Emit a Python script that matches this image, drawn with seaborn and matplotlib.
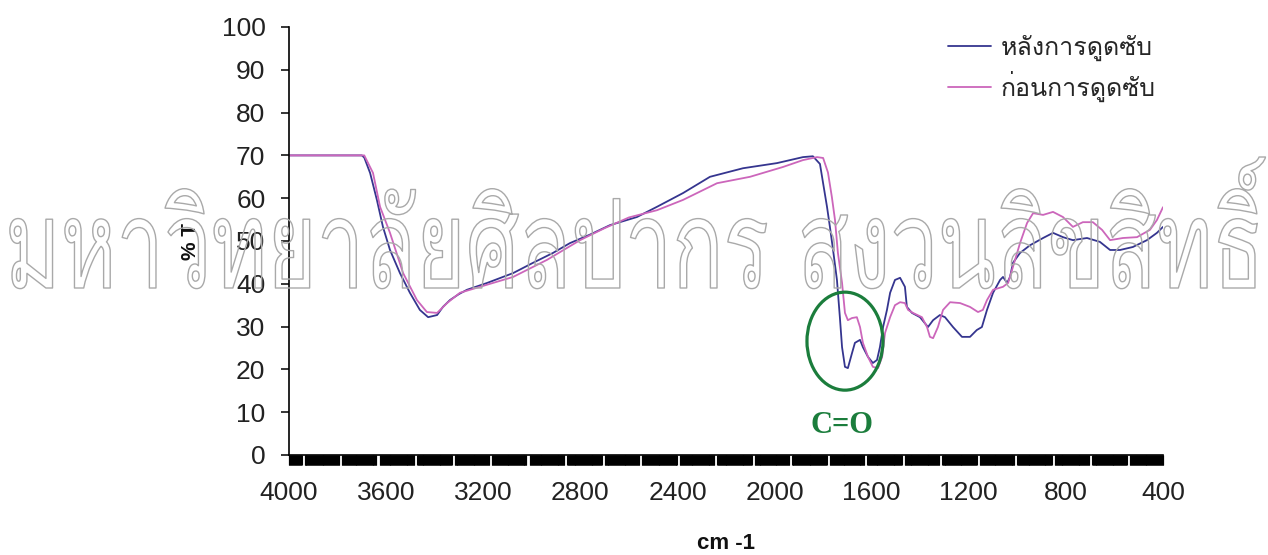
import numpy as np
import pandas as pd
import matplotlib
matplotlib.use("Agg")
import matplotlib.pyplot as plt
import seaborn as sns
from matplotlib import font_manager as fm
from matplotlib.ft2font import FT2Font
from matplotlib.patches import Ellipse
from matplotlib.ticker import FixedLocator
from matplotlib.transforms import Affine2D
from matplotlib.textpath import TextPath
import matplotlib.patheffects as pe

# ---------------- data ----------------
after_x = [4000, 3700, 3690, 3666, 3638, 3613, 3584, 3543, 3502, 3461, 3427, 3390, 3366, 3337,
           3300, 3267, 3184, 3077, 2995, 2913, 2843, 2760, 2678, 2567, 2484, 2377, 2266, 2130,
           1990, 1883, 1842, 1813, 1800, 1784, 1772, 1759, 1743, 1731, 1722, 1710, 1698, 1681,
           1669, 1648, 1636, 1615, 1595, 1578, 1566, 1553, 1537, 1524, 1504, 1483, 1463, 1455,
           1434, 1401, 1368, 1347, 1319, 1298, 1265, 1228, 1195, 1167, 1146, 1125, 1100, 1071,
           1059, 1042, 1030, 1018, 989, 948, 894, 853, 812, 771, 713, 660, 618, 577, 524, 466,
           425, 400]
after_y = [70, 70, 69.5, 65.9, 59.6, 53.3, 47.9, 42.5, 37.9, 33.9, 32.2, 32.7, 34.6, 36.2,
           37.6, 38.6, 40.2, 42.5, 44.9, 47.2, 49.5, 51.5, 53.7, 55.6, 58.0, 61.2, 65.0, 67.0,
           68.2, 69.6, 69.8, 68.0, 63.5, 58.0, 53.3, 47.9, 40.9, 32.2, 25.2, 20.6, 20.3, 23.8,
           26.2, 26.9, 25.2, 22.9, 21.5, 22.2, 25.2, 29.9, 33.9, 37.9, 40.9, 41.4, 39.3, 34.6,
           33.2, 32.2, 29.9, 31.5, 32.7, 32.2, 29.9, 27.6, 27.6, 29.2, 29.9, 33.9, 37.9, 40.9,
           41.6, 40.2, 41.6, 44.9, 47.2, 49.0, 50.7, 51.9, 50.9, 50.2, 50.7, 49.8, 47.9, 47.9,
           48.6, 50.2, 51.9, 53.3]

before_x = [4000, 3690, 3654, 3625, 3584, 3530, 3473, 3432, 3390, 3349, 3296, 3213, 3077, 2937,
            2801, 2700, 2600, 2484, 2377, 2237, 2101, 1965, 1883, 1825, 1800, 1780, 1764, 1751,
            1739, 1722, 1710, 1698, 1681, 1661, 1648, 1636, 1615, 1595, 1574, 1557, 1545, 1524,
            1504, 1483, 1463, 1450, 1430, 1393, 1372, 1360, 1347, 1327, 1306, 1277, 1236, 1195,
            1162, 1142, 1125, 1100, 1059, 1038, 1022, 1001, 989, 960, 935, 894, 853, 812, 771,
            730, 689, 651, 618, 565, 507, 454, 425, 400]
before_y = [70, 70, 65.9, 58.0, 51.9, 42.5, 36.2, 33.4, 33.2, 35.5, 37.9, 39.3, 41.6, 45.6,
            50.2, 53.0, 55.5, 57.2, 59.6, 63.5, 65.0, 67.3, 68.9, 69.6, 69.4, 66.0, 60.3, 54.9,
            47.2, 40.2, 33.2, 31.5, 32.0, 32.2, 29.9, 26.2, 22.9, 20.6, 20.3, 22.9, 28.5, 32.2,
            35.0, 35.7, 35.5, 33.9, 33.2, 32.2, 29.9, 27.6, 27.3, 29.9, 33.9, 35.7, 35.5, 34.6,
            33.4, 33.9, 36.2, 38.6, 39.3, 40.2, 43.2, 47.2, 49.5, 54.2, 56.5, 56.1, 56.8, 55.6,
            53.3, 54.4, 54.4, 52.6, 50.2, 50.7, 50.9, 52.6, 54.9, 57.9]

series_labels = ["หลังการดูดซับ", "ก่อนการดูดซับ"]
x_ticks = [4000, 3600, 3200, 2800, 2400, 2000, 1600, 1200, 800, 400]
y_ticks = [0, 10, 20, 30, 40, 50, 60, 70, 80, 90, 100]
x_label = "cm -1"
y_label = "% T"
peak_label = "C=O"
watermark = "มหาวิทยาลัยศิลปากร สงวนลิขสิทธิ์"

# ---------------- fonts ----------------
def find_thai_font():
    seen = set()
    for f in fm.fontManager.ttflist:
        if f.fname in seen:
            continue
        seen.add(f.fname)
        try:
            if 0x0E2B in FT2Font(f.fname).get_charmap():
                return f.fname
        except Exception:
            continue
    for path in fm.findSystemFonts():
        try:
            if 0x0E2B in FT2Font(path).get_charmap():
                fm.fontManager.addfont(path)
                return path
        except Exception:
            continue
    return None

sns.set_theme(style="white")
thai_path = find_thai_font()
thai_name = fm.FontProperties(fname=thai_path).get_name() if thai_path else "DejaVu Sans"
plt.rcParams['font.family'] = ['Liberation Sans', 'DejaVu Sans']

# ---------------- figure ----------------
W, H, DPI = 1268, 555, 100
fig = plt.figure(figsize=(W / DPI, H / DPI), dpi=DPI, facecolor="white")
ax = fig.add_axes([289 / W, 100 / H, 874 / W, 428 / H])
ax.set_facecolor("white")

df_after = pd.DataFrame({"wavenumber": after_x, "T": after_y})
df_before = pd.DataFrame({"wavenumber": before_x, "T": before_y})
navy = "#35358f"
pink = "#cc66bb"
sns.lineplot(data=df_after, x="wavenumber", y="T", color=navy, lw=1.3,
             label=series_labels[0], ax=ax, estimator=None)
sns.lineplot(data=df_before, x="wavenumber", y="T", color=pink, lw=1.3,
             label=series_labels[1], ax=ax, estimator=None)

ax.set_xlim(4000, 400)
ax.set_ylim(0, 100)
ax.xaxis.set_major_locator(FixedLocator(x_ticks))
ax.set_xticklabels([str(t) for t in x_ticks])
ax.yaxis.set_major_locator(FixedLocator(y_ticks))
ax.set_yticklabels([str(t) for t in y_ticks])

# dense black band below x axis with thin separators
seps = 3942 - 154.5 * np.arange(0, 24)
dense = np.arange(4000, 399, -2.0)
keep = np.array([np.min(np.abs(seps - d)) > 5 for d in dense])
ax.xaxis.set_minor_locator(FixedLocator(dense[keep]))
ax.tick_params(axis="x", which="both", direction="out", length=7.5, width=0.8,
               color="black", bottom=True)
ax.tick_params(axis="x", which="major", labelsize=19, pad=11, labelcolor="#222222")
ax.tick_params(axis="y", which="major", direction="out", length=6, width=1.1,
               color="black", left=True, labelsize=19, pad=11, labelcolor="#222222")

for s in ["top", "right"]:
    ax.spines[s].set_visible(False)
for s in ["left", "bottom"]:
    ax.spines[s].set_color("black")
    ax.spines[s].set_linewidth(1.2)

ax.set_xlabel(x_label, fontsize=16, fontweight="bold", color="#111111")
ax.xaxis.set_label_coords(0.5, (455 - 533) / 428)
ax.xaxis.label.set_va("top")
ax.set_ylabel(y_label, fontsize=15, fontweight="bold", color="#111111")
ax.yaxis.set_label_coords((200 - 289) / 874, 0.5)

# legend
leg = ax.legend(loc="upper left", bbox_to_anchor=(925 / W, 1 - 12 / H),
                bbox_transform=fig.transFigure, frameon=False, handlelength=1.72,
                handletextpad=0.4, labelspacing=0.4,
                prop=fm.FontProperties(family=[thai_name, 'DejaVu Sans'], size=18))
for line in leg.get_lines():
    line.set_linewidth(1.3)

# C=O annotation
ell = Ellipse((1710, 26.6), width=313, height=22.9, fill=False,
              edgecolor="#1b7d3c", lw=2.3, zorder=5)
ax.add_patch(ell)
ax.text(1722, 7.0, peak_label, color="#1b7d3c", fontsize=22, fontweight="bold",
        family=["Liberation Serif", "DejaVu Serif"], ha="center", va="center",
        clip_on=False)

# watermark (outlined text, vertically stretched like the condensed original)
class VStretchStroke(pe.AbstractPathEffect):
    def __init__(self, sy, y0, lw, color):
        super().__init__()
        self.sy, self.y0, self.lw, self.color = sy, y0, lw, color

    def draw_path(self, renderer, gc, tpath, affine, rgbFace=None):
        a = affine + Affine2D().translate(0, -self.y0).scale(1, self.sy).translate(0, self.y0)
        gc0 = renderer.new_gc()
        gc0.copy_properties(gc)
        gc0.set_foreground(self.color)
        gc0.set_linewidth(self.lw)
        gc0.set_alpha(1.0)
        renderer.draw_path(gc0, tpath, a, None)
        gc0.restore()

wfp = fm.FontProperties(family=[thai_name, 'DejaVu Sans'])
try:
    tp_all = TextPath((0, 0), watermark, size=100, prop=fm.FontProperties(fname=thai_path) if thai_path else wfp)
    width_per100 = tp_all.get_extents().width
    tp_body = TextPath((0, 0), "ม", size=100, prop=fm.FontProperties(fname=thai_path) if thai_path else wfp)
    body_per100 = tp_body.get_extents().height
except Exception:
    width_per100, body_per100 = 1500.0, 55.0
target_w_px = 1255
fs = 100 * (target_w_px * 72 / DPI) / width_per100
body_px = body_per100 * fs / 100 * DPI / 72
sy = 70 / body_px
baseline_px = H - 288
fig.text(5 / W, baseline_px / H, watermark, fontproperties=wfp, fontsize=fs,
         color="none", ha="left", va="baseline", zorder=10,
         path_effects=[VStretchStroke(sy, baseline_px, 1.0, "#a9a9a9")])

fig.savefig("out.png", dpi=DPI, facecolor="white")
